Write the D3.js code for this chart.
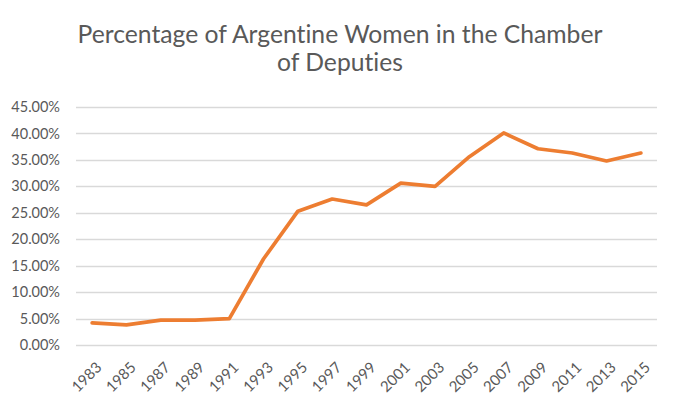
<!DOCTYPE html>
<html>
<head>
<meta charset="utf-8">
<script src="https://cdn.jsdelivr.net/npm/d3@7"></script>
<style>
  body { margin: 0; background: #fff; }
  text { font-family: Lato, "Open Sans", sans-serif; fill: #595959; font-variant-ligatures: none; }
</style>
</head>
<body>
<svg class="chart" width="688" height="407"></svg>
<script>
const WIDTH = 688;
const HEIGHT = 407;

const years = ['1983', '1985', '1987', '1989', '1991', '1993', '1995', '1997', '1999',
  '2001', '2003', '2005', '2007', '2009', '2011', '2013', '2015'];
const womenShare = [4.2, 3.8, 4.7, 4.7, 5.0, 16.3, 25.3, 27.6, 26.5,
  30.6, 30.0, 35.6, 40.1, 37.1, 36.3, 34.8, 36.3];
const yTicks = [0, 5, 10, 15, 20, 25, 30, 35, 40, 45];
const titleLines = ['Percentage of Argentine Women in the Chamber', 'of Deputies'];

const margin = { top: 107, right: 30, bottom: 62, left: 75 };

const svg = d3.select('.chart');

const x = d3.scaleBand().domain(years).range([margin.left, WIDTH - margin.right]);
const y = d3.scaleLinear().domain([0, 45]).range([HEIGHT - margin.bottom, margin.top]);

// title
svg.append('g')
  .selectAll('text')
  .data(titleLines)
  .enter().append('text')
  .attr('x', 340)
  .attr('y', (d, i) => 43 + i * 28)
  .attr('text-anchor', 'middle')
  .style('font-size', '24.7px')
  .text((d) => d);

// gridlines
svg.append('g')
  .selectAll('line')
  .data(yTicks)
  .enter().append('line')
  .attr('x1', margin.left + 1)
  .attr('x2', WIDTH - margin.right - 1)
  .attr('y1', (d) => Math.round(y(d)) + 0.5)
  .attr('y2', (d) => Math.round(y(d)) + 0.5)
  .style('stroke', '#d9d9d9')
  .style('stroke-width', 1.3);

// y labels
svg.append('g')
  .selectAll('text')
  .data(yTicks)
  .enter().append('text')
  .attr('x', 60)
  .attr('y', (d) => y(d))
  .attr('dy', '0.35em')
  .attr('text-anchor', 'end')
  .style('font-size', '14.5px')
  .text((d) => `${d.toFixed(2)}%`);

// x labels, rotated
svg.append('g')
  .selectAll('text')
  .data(years)
  .enter().append('text')
  .attr('transform', (d) => `translate(${x(d) + x.bandwidth() / 2 + 3},${HEIGHT - margin.bottom + 16}) rotate(-45)`)
  .attr('text-anchor', 'end')
  .attr('dy', '0.7em')
  .style('font-size', '15px')
  .text((d) => d);

// the series line
const line = d3.line()
  .x((d, i) => x(years[i]) + x.bandwidth() / 2)
  .y((d) => y(d));

svg.append('path')
  .datum(womenShare)
  .attr('d', line)
  .style('fill', 'none')
  .style('stroke', '#ed7d31')
  .style('stroke-width', 3.7)
  .style('stroke-linejoin', 'round')
  .style('stroke-linecap', 'round');
</script>
</body>
</html>
